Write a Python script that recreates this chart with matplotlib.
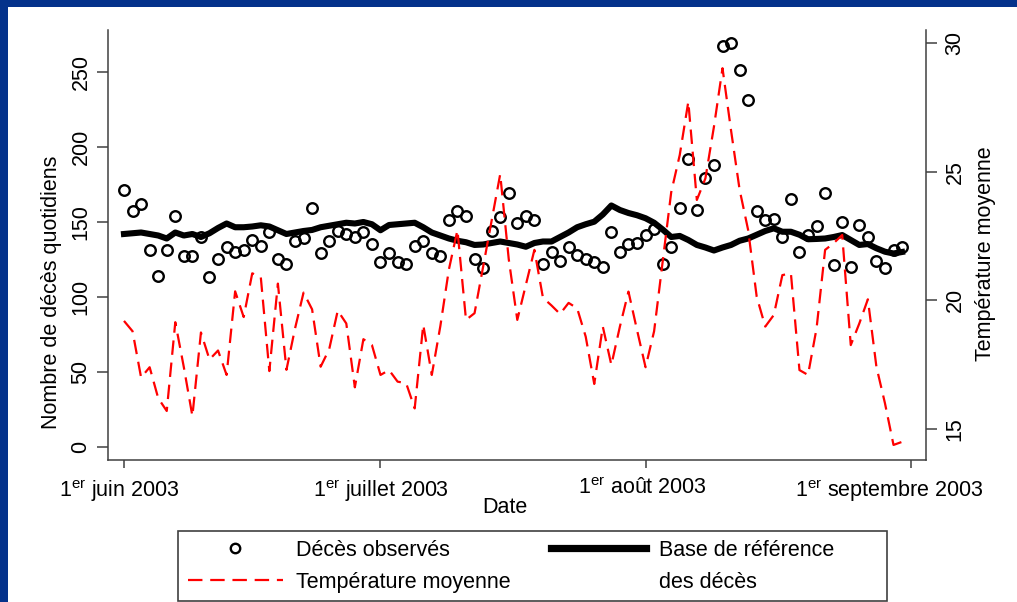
import numpy as np
import pandas as pd
import matplotlib
matplotlib.use('Agg')
import matplotlib.pyplot as plt
import matplotlib.transforms as mtransforms
from matplotlib.lines import Line2D
from matplotlib.patches import Rectangle

plt.rcParams['font.family'] = ['Liberation Sans', 'DejaVu Sans']
plt.rcParams['mathtext.fontset'] = 'custom'
plt.rcParams['mathtext.rm'] = 'Liberation Sans'

# daily data, 1 June - 31 August 2003
dates = pd.date_range('2003-06-01', '2003-08-31', freq='D')

deces = [171, 157, 162, 131, 114, 131, 154, 127, 127, 140,
         113, 125, 133, 130, 131, 138, 134, 143, 125, 122,
         137, 139, 159, 129, 137, 144, 142, 140, 143, 135,
         123, 129, 123, 122, 134, 137, 129, 127, 151, 157,
         154, 125, 119, 144, 153, 169, 149, 154, 151, 122,
         130, 124, 133, 128, 125, 123, 120, 143, 130, 135,
         136, 141, 145, 122, 133, 159, 192, 158, 179, 188,
         267, 269, 251, 231, 157, 151, 152, 140, 165, 130,
         141, 147, 169, 121, 150, 120, 148, 140, 124, 119,
         131, 133]

base = [142, 142.5, 143, 142, 141, 139, 143, 141, 142, 140,
        142.5, 146, 149, 146.5, 146.5, 147, 147.8, 147, 144.5, 142,
        143, 144, 144.7, 146.5, 147.5, 148.5, 149.5, 149, 150, 148.5,
        144.5, 148, 148.5, 149, 149.5, 146.5, 143, 141, 139, 137.5,
        136.5, 134.7, 135, 136, 137, 136, 135, 133.5, 136, 137,
        137, 140, 143, 146.5, 148.5, 150.2, 155, 161, 158, 156,
        154.5, 152.5, 149.5, 145, 140, 140.7, 138, 134.7, 133, 131,
        133, 134.7, 137.5, 139, 141.5, 144, 145.8, 143.5, 143.5, 141.5,
        138.5, 138.7, 139, 140, 141.3, 138, 134.7, 135.3, 132.5, 130.2,
        129, 130]

temp = [19.2, 18.8, 17.0, 17.4, 16.2, 15.7, 19.15, 17.4, 15.5, 18.75,
        17.7, 18.05, 17.1, 20.35, 19.35, 21.05, 20.9, 17.25, 20.65, 17.3,
        18.9, 20.3, 19.65, 17.42, 18.1, 19.6, 19.1, 16.62, 18.49, 18.26,
        17.1, 17.29, 16.84, 16.78, 15.8, 19.05, 17.1, 19.0, 21.2, 22.73,
        19.24, 19.5, 21.3, 23.1, 24.9, 21.6, 19.24, 20.6, 21.96, 20.1,
        19.8, 19.47, 19.9, 19.69, 18.59, 16.75, 18.98, 17.49, 18.98, 20.34,
        18.85, 17.4, 18.8, 21.5, 24.2, 25.65, 27.72, 23.9, 24.74, 26.75,
        29.02, 26.6, 24.3, 22.73, 20.14, 18.98, 19.43, 20.98, 21.05, 17.29,
        17.1, 18.91, 21.96, 22.22, 22.54, 18.26, 19.1, 20.04, 17.42, 16.0,
        14.38, 14.5]

tick_dates = pd.to_datetime(['2003-06-01', '2003-07-01', '2003-08-01', '2003-09-01'])
tick_labels = ['1$^{\\mathrm{er}}$ juin 2003', '1$^{\\mathrm{er}}$ juillet 2003',
               '1$^{\\mathrm{er}}$ août 2003', '1$^{\\mathrm{er}}$ septembre 2003']

fs = 15.5
axis_col = '#404040'
dash = (0, (6.5, 3.5))

fig = plt.figure(figsize=(10.17, 6.02), dpi=100)
ax = fig.add_axes([108 / 1017, 1 - 460 / 602, 818 / 1017, 430 / 602])

ax.plot(dates, base, color='black', lw=4.4, solid_joinstyle='round', zorder=2)
ax.plot(dates, deces, 'o', mfc='none', mec='black', ms=7.6, mew=1.7, zorder=3)

ax2 = ax.twinx()
ax2.plot(dates, temp, color='red', lw=1.6, linestyle=dash)

ax.set_xlim(dates[0] - pd.Timedelta(days=1.87), dates[0] + pd.Timedelta(days=93.8))
ax.set_ylim(-8.67, 278)
ax2.set_ylim(13.795, 30.505)

for s in ['top', 'right']:
    ax.spines[s].set_visible(False)
for s in ['top', 'left', 'bottom']:
    ax2.spines[s].set_visible(False)
for a in (ax, ax2):
    for s in a.spines.values():
        s.set_color(axis_col)
        s.set_linewidth(1.1)

ax.set_xticks(tick_dates)
ax.set_xticklabels(tick_labels)
ax.tick_params(axis='x', length=5.8, width=1.1, color=axis_col, pad=7, labelsize=fs)
# the last date label is pulled left, as in the original
offsets = [-5, 0, -3, -21]
for lbl, dx in zip(ax.get_xticklabels(), offsets):
    lbl.set_transform(lbl.get_transform() +
                      mtransforms.ScaledTranslation(dx / 100, 0, fig.dpi_scale_trans))

ax.set_yticks([0, 50, 100, 150, 200, 250])
ax.tick_params(axis='y', length=7.9, width=1.1, color=axis_col, pad=11.5,
               labelsize=fs, labelrotation=90)
for lbl in ax.get_yticklabels():
    lbl.set_ha('center')
    lbl.set_va('center')

ax2.set_yticks([15, 20, 25, 30])
ax2.tick_params(axis='y', length=7.9, width=1.1, color=axis_col, pad=13,
                labelsize=fs, labelrotation=90)
for lbl in ax2.get_yticklabels():
    lbl.set_ha('center')
    lbl.set_va('center')

ax.set_xlabel('Date', fontsize=fs)
ax.xaxis.set_label_coords(0.485, -0.1116)
ax.xaxis.label.set_va('center')

ax.set_ylabel('Nombre de décès quotidiens', fontsize=fs)
ax.yaxis.set_label_coords(-0.0685, 0.391)
ax.yaxis.label.set_va('center')

ax2.set_ylabel('Température moyenne', fontsize=fs, rotation=90)
ax2.yaxis.set_label_coords(1.0725, 0.479)
ax2.yaxis.label.set_va('center')
ax2.yaxis.label.set_ha('center')

# legend
handles = [
    Line2D([], [], ls='none', marker='o', mfc='none', mec='black', ms=6.8, mew=1.7),
    Line2D([], [], color='red', lw=1.6, ls=dash),
    Line2D([], [], color='black', lw=5.2),
    Line2D([], [], color='none'),
]
labels = ['Décès observés', 'Température moyenne', 'Base de référence', 'des décès']
fig.legend(handles, labels, ncol=2, loc='upper left',
           bbox_to_anchor=(188 / 1017, 1 - 540 / 602), frameon=False,
           borderpad=0, borderaxespad=0, fontsize=fs, handlelength=4.4,
           handletextpad=0.6, columnspacing=1.9, labelspacing=0.5)
fig.add_artist(Rectangle((178 / 1017, 1 - 601 / 602), 709 / 1017, 70 / 602,
                         transform=fig.transFigure, fill=False, ec=axis_col, lw=1.2))

# slide frame
blue = '#04328b'
fig.add_artist(Rectangle((0, 1 - 7 / 602), 1, 7 / 602, transform=fig.transFigure,
                         color=blue, lw=0))
fig.add_artist(Rectangle((0, 0), 8 / 1017, 1, transform=fig.transFigure,
                         color=blue, lw=0))

fig.savefig('out.png', dpi=100)
